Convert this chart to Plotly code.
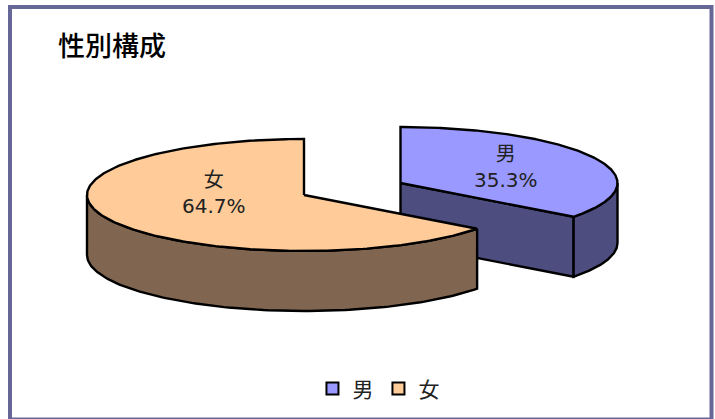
import numpy as np
import plotly.graph_objects as go

categories = ["男", "女"]
values = [35.3, 64.7]
top_colors = ["#9999ff", "#ffcc99"]
side_colors = ["#4d4d80", "#806650"]
centers = [(400.5, 183.0), (304.0, 195.0)]
label_pos = [(506, 167), (214, 193)]
RX, RY, DEPTH = 217.0, 56.0, 60.0
FONT = "Noto Sans CJK JP"
LABEL_FONT = "DejaVu Sans, Noto Sans CJK JP"

fig = go.Figure()


def pt(c, t):
    return c[0] + RX * np.sin(t), c[1] - RY * np.cos(t)


def poly(xs, ys, color):
    fig.add_trace(go.Scatter(x=list(xs) + [xs[0]], y=list(ys) + [ys[0]], mode="lines", fill="toself",
                             fillcolor=color, line=dict(color="black", width=2.4),
                             showlegend=False, hoverinfo="skip"))


total = sum(values)
split = 2 * np.pi * values[0] / total
spans = [(0.0, split), (split, 2 * np.pi)]
wall_spans = [(np.pi / 2, split), (split, 3 * np.pi / 2)]

# male: cut face, outer wall, top; then female: wall, top
c = centers[0]
ex, ey = pt(c, split)
poly([c[0], ex, ex, c[0]], [c[1], ey, ey + DEPTH, c[1] + DEPTH], side_colors[0])

for i in range(2):
    c = centers[i]
    ts = np.linspace(*wall_spans[i], 120)
    x, y = pt(c, ts)
    poly(np.r_[x, x[::-1]], np.r_[y, y[::-1] + DEPTH], side_colors[i])
    ts = np.linspace(*spans[i], 240)
    x, y = pt(c, ts)
    poly(np.r_[c[0], x], np.r_[c[1], y], top_colors[i])

for i, name in enumerate(categories):
    fig.add_trace(go.Scatter(x=[None], y=[None], mode="markers", name=name,
                             marker=dict(symbol="square", size=12, color=top_colors[i],
                                         line=dict(color="black", width=2))))
    fig.add_annotation(x=label_pos[i][0], y=label_pos[i][1], xref="x", yref="y", showarrow=False,
                       text=f"{name}<br>{values[i]:.1f}%", align="center",
                       font=dict(family=LABEL_FONT, size=20, color="#222222"))

fig.add_annotation(x=56, y=44, xref="x", yref="y", xanchor="left", showarrow=False, text="性別構成",
                   font=dict(family=FONT, size=27, color="black", weight=500))
fig.add_shape(type="rect", x0=10, y0=7, x1=711.5, y1=419.6, xref="x", yref="y",
              line=dict(color="#666699", width=4), layer="below")

fig.update_layout(
    width=715, height=419, margin=dict(l=0, r=0, t=0, b=0), autosize=False,
    paper_bgcolor="white", plot_bgcolor="white", hovermode=False,
    xaxis=dict(range=[0, 715], visible=False, fixedrange=True),
    yaxis=dict(range=[419, 0], visible=False, fixedrange=True),
    legend=dict(orientation="h", x=0.437, y=0.072, xanchor="left", yanchor="middle",
                font=dict(family=FONT, size=21, color="#222222"), bgcolor="rgba(0,0,0,0)"),
)
fig.write_html("out.html", config={"displayModeBar": False},
               post_script="document.body.style.margin='0';document.documentElement.style.overflow='hidden';")
